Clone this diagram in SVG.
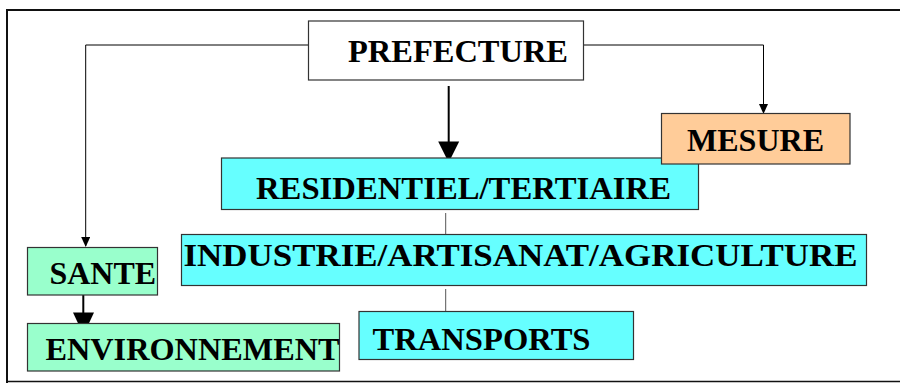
<svg xmlns="http://www.w3.org/2000/svg" width="900" height="383" viewBox="0 0 900 383">
<defs>
<style>
.box{stroke:#333;stroke-width:1.2}
.cyan{fill:#66FFFF}
.green{fill:#99FFCC}
.orange{fill:#FFCC99}
.white{fill:#FFFFFF}
.lbl{font-family:"Liberation Serif","Times New Roman",serif;font-weight:bold;font-size:32px;fill:#000}
.thin{fill:none;stroke:#000;stroke-width:1}
.gray{fill:none;stroke:#555;stroke-width:1}
.thick{fill:none;stroke:#000;stroke-width:2}
</style>
<marker id="sm" markerWidth="10" markerHeight="10" refX="9" refY="4.5" orient="auto" markerUnits="userSpaceOnUse">
<path d="M0,0 L10,4.5 L0,9 Z" fill="#000"/>
</marker>
</defs>
<rect width="900" height="383" fill="#fff"/>
<path d="M7,383 L7,10 L900,10" fill="none" stroke="#111" stroke-width="2"/>
<line x1="6" y1="381.5" x2="900" y2="381.5" stroke="#111" stroke-width="1.6"/>

<g id="connectors">
<polyline class="thin" points="308,45 85.7,45 85.7,246" marker-end="url(#sm)"/>
<polyline class="thin" points="583,45 763.5,45 763.5,113" marker-end="url(#sm)"/>
<line class="thick" x1="448.7" y1="86" x2="448.7" y2="145"/>
<path d="M438.2,141.5 L459.2,141.5 L448.7,162.5 Z" fill="#000"/>
<line class="thick" x1="83.3" y1="295" x2="83.3" y2="316"/>
<path d="M73,312.5 L94,312.5 L83.5,335 Z" fill="#000"/>
<line class="gray" x1="445.7" y1="213" x2="445.7" y2="240"/>
<line class="gray" x1="445.7" y1="289" x2="445.7" y2="316"/>
<path d="M690,166.5 Q694,163.5 698,164.5" fill="none" stroke="#000" stroke-width="1.2"/>
</g>

<g id="prefecture">
<rect class="box white" x="308.5" y="21" width="275" height="59"/>
<text class="lbl" x="348" y="61.5" textLength="220" lengthAdjust="spacingAndGlyphs">PREFECTURE</text>
</g>

<g id="residentiel">
<rect class="box cyan" x="221.5" y="158" width="477" height="51.5"/>
<text class="lbl" x="256" y="199" textLength="415" lengthAdjust="spacingAndGlyphs">RESIDENTIEL/TERTIAIRE</text>
</g>

<g id="mesure">
<rect class="box orange" x="661.5" y="113.5" width="188.5" height="50.5"/>
<text class="lbl" x="687" y="151" textLength="137" lengthAdjust="spacingAndGlyphs">MESURE</text>
</g>

<g id="industrie">
<rect class="box cyan" x="181.5" y="234.5" width="685" height="51"/>
<text class="lbl" x="183.5" y="265.5" textLength="674" lengthAdjust="spacingAndGlyphs">INDUSTRIE/ARTISANAT/AGRICULTURE</text>
</g>

<g id="transports">
<rect class="box cyan" x="359" y="311.5" width="274.5" height="48"/>
<text class="lbl" x="372.5" y="350" textLength="218" lengthAdjust="spacingAndGlyphs">TRANSPORTS</text>
</g>

<g id="sante">
<rect class="box green" x="27.5" y="247.5" width="130" height="47.5"/>
<text class="lbl" x="49.5" y="284" textLength="106.5" lengthAdjust="spacingAndGlyphs">SANTE</text>
</g>

<g id="environnement">
<rect class="box green" x="27.5" y="323.5" width="312" height="47.5"/>
<text class="lbl" x="45.5" y="360" textLength="294" lengthAdjust="spacingAndGlyphs">ENVIRONNEMENT</text>
</g>
</svg>
